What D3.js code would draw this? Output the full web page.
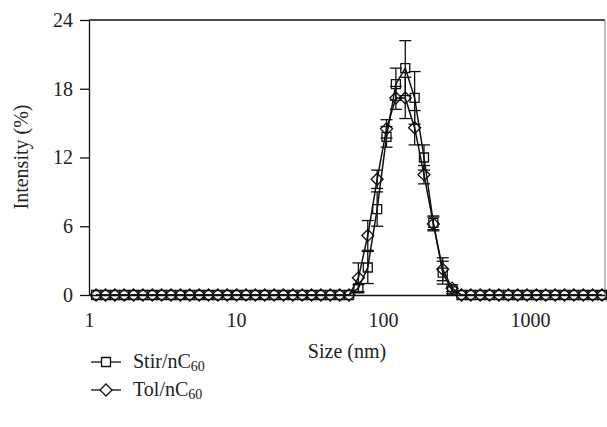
<!DOCTYPE html>
<html><head><meta charset="utf-8">
<script src="https://cdn.jsdelivr.net/npm/d3@7"></script>
<style>body{margin:0;background:#fff}svg text{font-family:"Liberation Serif","Times New Roman",Times,serif;fill:#222}</style>
</head><body><svg id="c" width="607" height="427"></svg>
<script>
const sizes=[1.117,1.294,1.499,1.736,2.010,2.328,2.696,3.122,3.615,4.187,4.849,5.615,6.503,7.531,8.721,10.10,11.70,13.54,15.69,18.17,21.04,24.36,28.21,32.67,37.84,43.82,50.75,58.77,68.06,78.82,91.28,105.7,122.4,141.8,164.2,190.1,220.2,255.0,295.3,342.0,396.1,458.7,531.2,615.1,712.4,825.0,955.4,1106,1281,1484,1718,1990,2305,2669,3091];
const z=n=>Array(n).fill(0);
const stirPeak=[0.6,2.4,7.5,13.8,18.4,19.8,17.2,12.0,6.3,1.95,0.4];
const stirPeakErr=[0.3,1.4,1.5,0.9,1.4,2.4,2.3,1.1,0.6,1.0,0.3];
const tolPeak=[1.5,5.2,10.1,14.5,17.2,17.2,14.6,10.5,6.2,2.25,0.6];
const tolPeakErr=[1.3,1.3,0.8,0.8,1.0,1.8,1.5,0.8,0.6,1.0,0.3];
const stir=[...z(28),...stirPeak,...z(16)];
const stirErr=[...z(28),...stirPeakErr,...z(16)];
const tol=[...z(28),...tolPeak,...z(16)];
const tolErr=[...z(28),...tolPeakErr,...z(16)];
const xTicks=[1,10,100,1000];
const yTicks=[0,6,12,18,24];

const svg=d3.select("#c");
const L=89,R=605,T=20,B=295;
const FS=20;
const x=d3.scaleLog().domain([1,3240]).range([L,R]);
const y=d3.scaleLinear().domain([0,24]).range([B,T]);

svg.append("line").attr("x1",L).attr("x2",R).attr("y1",T).attr("y2",T).attr("stroke","#111").attr("stroke-width",1.3);
svg.append("line").attr("x1",R).attr("x2",R).attr("y1",T).attr("y2",B).attr("stroke","#999").attr("stroke-width",1.3);

const ya=svg.append("g").attr("transform",`translate(${L},0)`).call(d3.axisLeft(y).tickValues(yTicks).tickSize(9).tickPadding(7).tickSizeOuter(0));
ya.select(".domain").attr("stroke","#111").attr("stroke-width",1.3);
ya.selectAll(".tick line").attr("stroke","#111").attr("stroke-width",1.3);
ya.selectAll("text").attr("font-size",FS).attr("font-family","Liberation Serif");

const xa=svg.append("g").attr("transform",`translate(0,${B})`).call(d3.axisBottom(x).tickValues(xTicks).tickFormat(d3.format("d")).tickSize(0).tickPadding(18).tickSizeOuter(0));
xa.select(".domain").attr("stroke","#111").attr("stroke-width",1.6);
xa.selectAll("text").attr("font-size",FS).attr("font-family","Liberation Serif");

svg.append("text").attr("x",347).attr("y",358).attr("text-anchor","middle").attr("font-size",FS).text("Size (nm)");
svg.append("text").attr("transform","translate(28,157) rotate(-90)").attr("text-anchor","middle").attr("font-size",FS).text("Intensity (%)");

const sq=d3.symbol().type(d3.symbolSquare).size(81);
const dm=(s)=>`M0,${-s}L${s},0L0,${s}L${-s},0Z`;

function series(vals,errs,marker){
  const pts=sizes.map((s,i)=>({s,v:vals[i],e:errs[i]}));
  svg.append("path").datum(pts).attr("fill","none").attr("stroke","#111").attr("stroke-width",1.5)
    .attr("d",d3.line().x(d=>x(d.s)).y(d=>y(d.v)));
  const eb=svg.append("g").attr("stroke","#111").attr("stroke-width",1.3);
  pts.filter(d=>d.e>0).forEach(d=>{
    const cx=x(d.s);
    eb.append("line").attr("x1",cx).attr("x2",cx).attr("y1",y(d.v-d.e)).attr("y2",y(d.v+d.e));
    [d.v-d.e,d.v+d.e].forEach(v=>eb.append("line").attr("x1",cx-6).attr("x2",cx+6).attr("y1",y(v)).attr("y2",y(v)));
  });
  svg.append("g").selectAll("path").data(pts).join("path")
    .attr("transform",d=>`translate(${x(d.s)},${y(d.v)})`)
    .attr("d",marker).attr("fill","none").attr("stroke","#111").attr("stroke-width",1.3);
}
series(stir,stirErr,sq());
series(tol,tolErr,dm(6));

const leg=[{name:"Stir/nC",m:sq(),y:362},{name:"Tol/nC",m:dm(6),y:390}];
leg.forEach(l=>{
  svg.append("line").attr("x1",91).attr("x2",121).attr("y1",l.y).attr("y2",l.y).attr("stroke","#111").attr("stroke-width",1.3);
  svg.append("path").attr("transform",`translate(106,${l.y})`).attr("d",l.m).attr("fill","#fff").attr("stroke","#111").attr("stroke-width",1.3);
  const t=svg.append("text").attr("x",133).attr("y",l.y+6).attr("font-size",FS).text(l.name);
  t.append("tspan").attr("font-size",14).attr("dy",3).text("60");
});
</script></body></html>
